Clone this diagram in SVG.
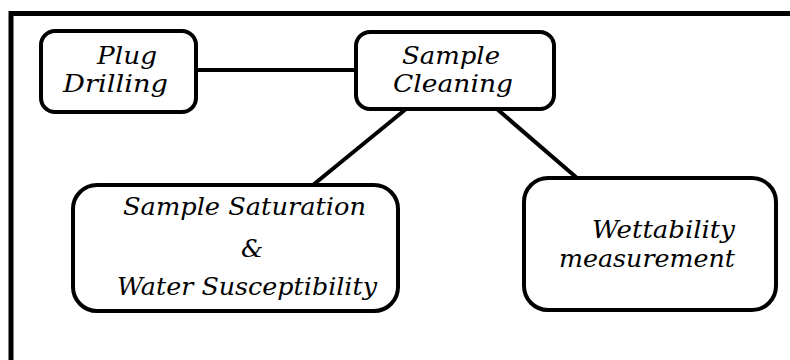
<svg xmlns="http://www.w3.org/2000/svg" width="790" height="360" viewBox="0 0 790 360">
<style>
.box{fill:#fff;stroke:#000;stroke-width:4}
.con{stroke:#000;stroke-width:4;fill:none}
.t{font-family:"DejaVu Serif","Liberation Serif",serif;font-style:italic;font-size:25px;fill:#000}
</style>
<rect width="790" height="360" fill="#fff"/>
<path d="M11 362 V13.5 H792" fill="none" stroke="#000" stroke-width="5"/>
<g id="connectors">
<line class="con" x1="197" y1="70" x2="356" y2="70"/>
<line class="con" x1="406" y1="109" x2="313" y2="185"/>
<line class="con" x1="497" y1="109" x2="577" y2="178"/>
</g>
<g id="plug">
<rect class="box" x="41" y="31" width="155" height="81" rx="14"/>
<text class="t" x="97" y="64" textLength="60" lengthAdjust="spacingAndGlyphs">Plug</text>
<text class="t" x="63" y="92" textLength="105" lengthAdjust="spacingAndGlyphs">Drilling</text>
</g>
<g id="cleaning">
<rect class="box" x="356" y="32" width="198" height="77" rx="14"/>
<text class="t" x="402" y="64" textLength="98" lengthAdjust="spacingAndGlyphs">Sample</text>
<text class="t" x="393" y="92" textLength="120" lengthAdjust="spacingAndGlyphs">Cleaning</text>
</g>
<g id="saturation">
<rect class="box" x="73" y="185" width="325" height="126" rx="24"/>
<text class="t" x="123" y="215" textLength="243" lengthAdjust="spacingAndGlyphs">Sample Saturation</text>
<text class="t" x="241" y="257">&amp;</text>
<text class="t" x="117" y="295" textLength="260" lengthAdjust="spacingAndGlyphs">Water Susceptibility</text>
</g>
<g id="wettability">
<rect class="box" x="524" y="178" width="252" height="132" rx="24"/>
<text class="t" x="592" y="238" textLength="143" lengthAdjust="spacingAndGlyphs">Wettability</text>
<text class="t" x="559" y="267" textLength="176" lengthAdjust="spacingAndGlyphs">measurement</text>
</g>
</svg>
